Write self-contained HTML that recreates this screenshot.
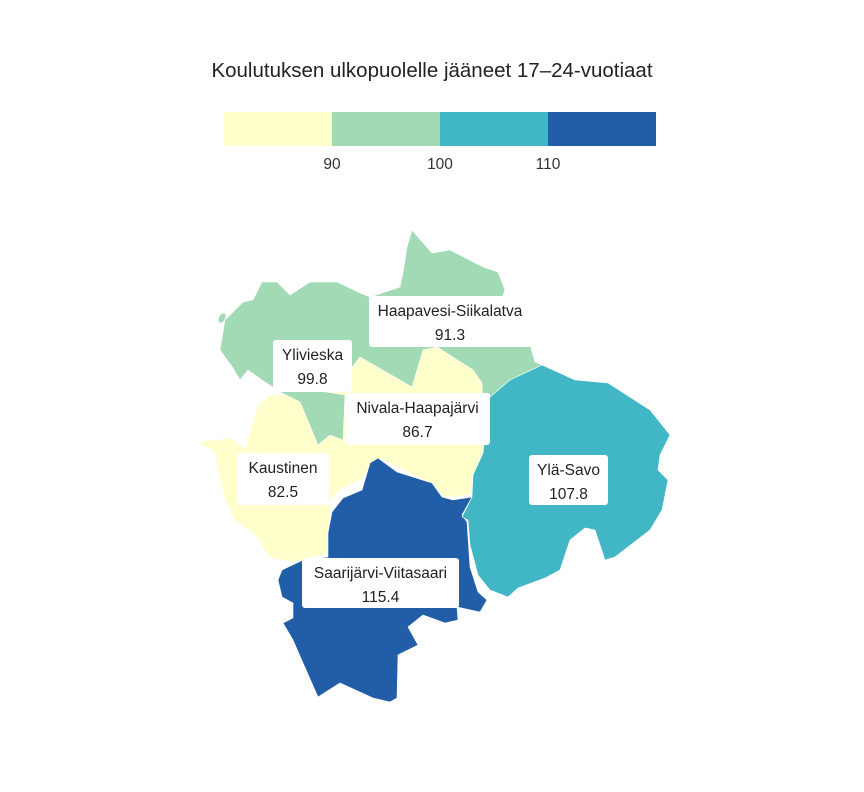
<!DOCTYPE html>
<html><head><meta charset="utf-8"><style>
body{margin:0;background:#fff;font-family:"Liberation Sans",sans-serif}
svg{display:block}
</style></head><body>
<svg id="map" width="864" height="792" viewBox="0 0 864 792">
<text x="432" y="77" text-anchor="middle" font-size="20.5" fill="#222">Koulutuksen ulkopuolelle jääneet 17–24-vuotiaat</text>
<g id="legend"></g>
<g id="regions"></g>
<g id="labels"></g>
</svg>
<script>
const regionNames = ["Haapavesi-Siikalatva","Ylivieska","Nivala-Haapajärvi","Kaustinen","Ylä-Savo","Saarijärvi-Viitasaari"];
const regionValues = [91.3, 99.8, 86.7, 82.5, 107.8, 115.4];
const thresholds = [90, 100, 110];
const palette = ["#ffffcc","#a1dab4","#41b6c4","#225ea8"];

const NS="http://www.w3.org/2000/svg";
function colorFor(v){let i=0;while(i<thresholds.length&&v>=thresholds[i])i++;return palette[i];}
function mk(tag,attrs,parent){const e=document.createElementNS(NS,tag);for(const k in attrs)e.setAttribute(k,attrs[k]);parent.appendChild(e);return e;}

const lg=document.getElementById('legend');
const lx0=224,cw=108;
palette.forEach((c,i)=>{
  const r=mk('rect',{x:lx0+i*cw,y:112,width:cw,height:34,fill:c},lg);
  
  
});
thresholds.forEach((t,i)=>{
  const tx=mk('text',{x:lx0+(i+1)*cw,y:169,'text-anchor':'middle','font-size':'15.5',fill:'#333'},lg);
  tx.textContent=t;
  
  
});

const shapes=[
 {r:0,pts:"220,350 225,320 243,302 253,300 262,282 277,282 290,295 310,282 337,282 360,293 370,297 400,287 403,273 407,247 412,230 432,253 450,250 483,267 498,272 505,290 500,303 520,330 530,345 535,362 542,365 510,380 490,397 440,400 350,400 280,392 262,380 248,370 240,380 233,368"},
 {r:3,pts:"198,442 230,438 245,448 258,405 270,395 300,395 350,370 360,357 412,387 423,350 437,347 473,370 482,383 485,460 470,495 445,497 430,483 380,458 360,480 340,490 330,500 328,553 293,562 270,558 255,535 235,520 225,500 218,470 215,452"},
 {r:1,pts:"280,392 300,402 318,445 330,435 343,440 345,395 300,388"},
 {r:5,pts:"378,458 370,463 362,490 343,498 332,512 328,533 328,557 303,560 282,570 278,580 282,597 293,603 293,618 283,623 293,640 303,663 318,697 340,683 373,698 390,702 397,698 398,655 418,645 408,627 423,615 445,623 458,620 457,607 480,612 487,600 478,592 470,567 467,522 462,515 472,497 453,500 442,497 432,483 397,472"},
 {r:4,pts:"542,365 575,380 608,383 650,410 670,435 660,455 658,470 668,480 662,510 650,530 615,557 605,560 595,530 585,528 570,540 560,570 545,578 518,588 508,597 490,590 478,575 470,545 468,520 462,517 472,497 473,475 483,453 490,397 510,380"}
];
const rg=document.getElementById('regions');
shapes.forEach(s=>{
  const p=mk('polygon',{points:s.pts,fill:colorFor(regionValues[s.r]),stroke:'#fff','stroke-width':'0.6'},rg);
  
  
});
const isl=mk('ellipse',{cx:222,cy:318,rx:3,ry:5,fill:colorFor(regionValues[1]),transform:'rotate(30 222 318)'},rg);



const boxes=[
 {r:0,x:369,y:296,w:162,h:51},
 {r:1,x:273,y:340,w:79,h:52},
 {r:2,x:345,y:393,w:145,h:52},
 {r:3,x:237,y:453,w:92,h:52},
 {r:4,x:529,y:455,w:79,h:50},
 {r:5,x:302,y:558,w:157,h:50}
];
const lb=document.getElementById('labels');
boxes.forEach(b=>{
  const g=mk('g',{},lb);
  
  
  mk('rect',{x:b.x,y:b.y,width:b.w,height:b.h,rx:3,fill:'#fff'},g);
  const cx=b.x+b.w/2;
  const t1=mk('text',{x:cx,y:b.y+20,'text-anchor':'middle','font-size':'15.5',fill:'#222'},g);
  t1.textContent=regionNames[b.r];
  const t2=mk('text',{x:cx,y:b.y+44,'text-anchor':'middle','font-size':'15.5',fill:'#222'},g);
  t2.textContent=regionValues[b.r].toFixed(1);
});
</script>
</body></html>
